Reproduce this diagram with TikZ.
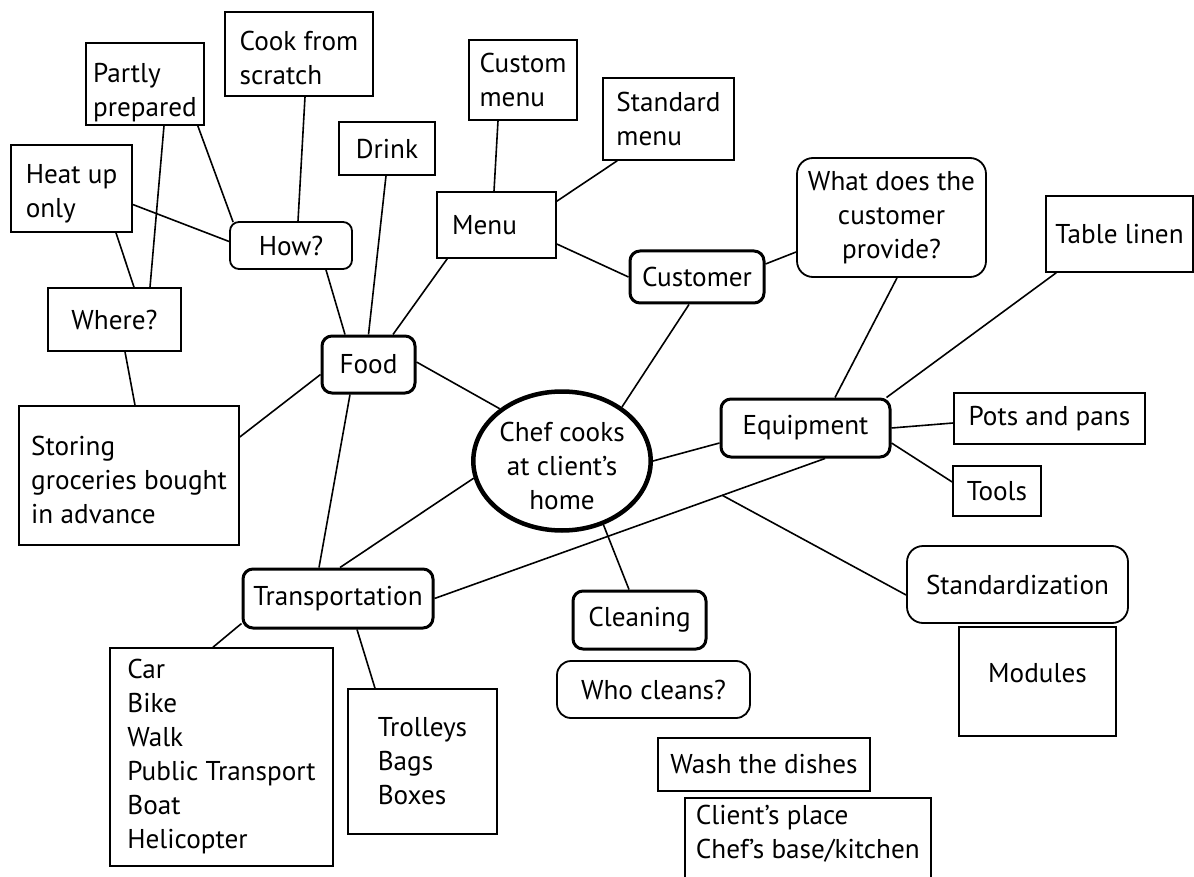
\documentclass[tikz,border=0pt]{standalone}
\usepackage{fontspec}
\setmainfont{PT Sans}
\usetikzlibrary{calc,shapes.geometric}
\newcommand{\upx}[2]{\raisebox{0pt}[\dimexpr\height+#1\relax]{#2}}
\begin{document}
\begin{tikzpicture}[x=1pt,y=-1pt,
  every node/.style={font=\fontsize{27.2}{34}\selectfont, inner sep=0pt},
  box/.style={draw, line width=1.6pt, rectangle},
  rbox/.style={draw, line width=1.8pt, rounded corners=9pt},
  tbox/.style={draw, line width=3pt, rounded corners=10pt},
  link/.style={line width=1.6pt},
]
\useasboundingbox[fill=white] (0,0) rectangle (1194,877);

% nodes
\node[box, minimum width=118, minimum height=82, align=left] (partly) at (145,84) {\upx{18pt}{Partly}\\prepared};
\node[box, minimum width=148, minimum height=84, align=left] (cook) at (299,54) {\upx{8pt}{Cook from}\\scratch};
\node[box, minimum width=96, minimum height=53] (drink) at (387,148.5) {Drink};
\node[box, minimum width=121, minimum height=87, align=left] (heat) at (71.5,188.5) {\upx{10pt}{Heat up}\\only};
\node[rbox, minimum width=122, minimum height=47] (how) at (291,245.5) {How?};
\node[box, minimum width=133, minimum height=63] (where) at (114.5,319.5) {Where?};
\node[box, minimum width=220, minimum height=139, align=left] (storing) at (129,475.5) {\upx{8pt}{Storing}\\groceries bought\\in advance};
\node[tbox, minimum width=93, minimum height=57] (food) at (368.5,364.5) {Food};
\node[box, minimum width=108, minimum height=80, align=left] (custom) at (523,80) {Custom\\menu};
\node[box, minimum width=131, minimum height=82, align=left] (standard) at (668.5,119) {Standard\\menu};
\node[box, minimum width=119, minimum height=66] (menu) at (496.5,225) {Menu\hspace*{24pt}};
\node[tbox, minimum width=134, minimum height=52] (customer) at (697,277) {Customer};
\node[rbox, rounded corners=16pt, minimum width=189, minimum height=119, align=center] (what) at (891.5,217.5) {What does the\\customer\\provide?};
\node[box, minimum width=147, minimum height=76] (table) at (1119.5,234) {Table linen};
\node[tbox, minimum width=169, minimum height=58] (equip) at (805.5,428) {Equipment};
\node[box, minimum width=191, minimum height=51] (pots) at (1049.5,418.5) {Pots and pans};
\node[box, minimum width=88, minimum height=50] (tools) at (997,491) {Tools};
\node[ellipse, draw, line width=4.5pt, minimum width=175, minimum height=139, align=center] (chef) at (562,461) {\upx{10pt}{Chef cooks}\\at client’s\\home};
\node[tbox, minimum width=190, minimum height=59] (transport) at (338,598.5) {Transportation};
\node[box, minimum width=223, minimum height=218, align=left] (car) at (221.5,757) {Car\\Bike\\Walk\\Public Transport\\Boat\\Helicopter};
\node[box, minimum width=149, minimum height=145, align=left] (trolleys) at (422.5,761.5) {Trolleys\\Bags\\Boxes};
\node[tbox, minimum width=133, minimum height=58] (cleaning) at (639.5,620) {Cleaning};
\node[rbox, rounded corners=14pt, minimum width=193, minimum height=57] (who) at (653.5,689.5) {Who cleans?};
\node[rbox, rounded corners=16pt, minimum width=221, minimum height=77] (stdz) at (1017.5,584.5) {Standardization};
\node[box, minimum width=157, minimum height=109] (modules) at (1037.5,681.5) {\raisebox{0pt}[\height][\dimexpr\depth+16pt\relax]{Modules}};
\node[box, minimum width=212, minimum height=53] (wash) at (764,764.5) {Wash the dishes};
\node[box, anchor=north west, minimum width=246, align=left, inner xsep=8pt, inner ysep=7pt] (client) at (684,797) {Client’s place\\Chef’s base/kitchen\\\rule{0pt}{70pt}};

% connectors
\draw[link] ($(partly.south)+(19,0)$) -- ($(where.north)+(35.5,0)$);
\draw[link] ($(partly.south east)+(-7,0)$) -- ($(how.north west)+(4,1)$);
\draw[link] ($(heat.east)+(0,16)$) -- ($(how.west)+(0,-4)$);
\draw[link] ($(heat.south)+(44.5,0)$) -- ($(where.north)+(19.5,0)$);
\draw[link] ($(cook.south)+(6,0)$) -- ($(how.north)+(7,0)$);
\draw[link] ($(how.south)+(35,0)$) -- ($(food.north)+(-23.5,0)$);
\draw[link] ($(drink.south)+(-1,0)$) -- (food.north);
\draw[link] ($(menu.south west)+(11,0)$) -- ($(food.north)+(24.5,0)$);
\draw[link] ($(custom.south)+(-25,0)$) -- ($(menu.north)+(-2.5,0)$);
\draw[link] ($(standard.south west)+(15,0)$) -- ($(menu.north east)+(0,10)$);
\draw[link] ($(menu.east)+(0,19)$) -- (customer.west);
\draw[link] ($(customer.east)+(0,-13)$) -- ($(what.west)+(0,34.5)$);
\draw[link] ($(customer.south)+(-8,0)$) -- (chef.42);
\draw[link] ($(what.south)+(5.5,0)$) -- ($(equip.north)+(29.5,0)$);
\draw[link] ($(table.south west)+(11,0)$) -- ($(equip.north east)+(-5,0)$);
\draw[link] (equip.east) -- ($(pots.west)+(0,4.5)$);
\draw[link] ($(equip.east)+(0,15)$) -- ($(tools.west)+(0,-9)$);
\draw[link] ($(equip.south)+(19.5,0)$) -- coordinate[pos=0.263] (branch) (transport.east);
\draw[link] (branch) -- ($(stdz.west)+(0,10.5)$);
\draw[link] (chef.140) -- ($(food.east)+(0,-2.5)$);
\draw[link] (chef.0) -- ($(equip.west)+(0,15)$);
\draw[link] (chef.191) -- ($(transport.north)+(2,0)$);
\draw[link] (chef.303) -- ($(cleaning.north)+(-10.5,0)$);
\draw[link] ($(food.west)+(0,10)$) -- ($(storing.east)+(0,-38.5)$);
\draw[link] ($(food.south)+(-18.5,0)$) -- ($(transport.north)+(-19,0)$);
\draw[link] ($(where.south)+(10.5,0)$) -- ($(storing.north)+(6,0)$);
\draw[link] ($(transport.south west)+(0,-6)$) -- ($(car.north)+(-8.5,0)$);
\draw[link] ($(transport.south)+(19,0)$) -- ($(trolleys.north)+(-47.5,0)$);
\end{tikzpicture}
\end{document}
